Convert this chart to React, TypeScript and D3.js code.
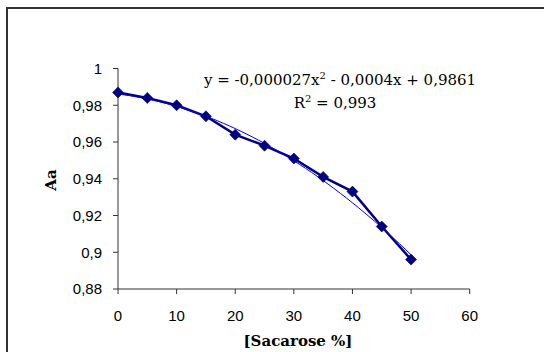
import React from 'react';
import * as d3 from 'd3';

const sacarose = [0, 5, 10, 15, 20, 25, 30, 35, 40, 45, 50];
const aa = [0.987, 0.984, 0.98, 0.974, 0.964, 0.958, 0.951, 0.941, 0.933, 0.914, 0.896];
// trendline coefficients as printed on the chart: a*x^2 + b*x + c
const trendCoef = [-0.000027, -0.0004, 0.9861];
const xTicks = [0, 10, 20, 30, 40, 50, 60];
const yTicks = [0.88, 0.9, 0.92, 0.94, 0.96, 0.98, 1];

const fmt = (v: number) => String(v).replace('.', ',');

export default function App() {
  const width = 544;
  const height = 352;
  const x = d3.scaleLinear().domain([0, 60]).range([118, 469.7]);
  const y = d3.scaleLinear().domain([0.88, 1]).range([289, 68.5]);

  const pts = sacarose.map((s, i) => ({ x: s, y: aa[i] }));
  const line = d3.line<{ x: number; y: number }>().x((d) => x(d.x)).y((d) => y(d.y));

  const [a, b, c] = trendCoef;
  const trendX = d3.range(0, 50.01, 1);
  const trend = trendX.map((t) => ({ x: t, y: a * t * t + b * t + c }));
  const trendPath = line(trend) || undefined;

  const tickFont = '"Liberation Sans", Arial, sans-serif';
  const serif = '"DejaVu Serif", serif';
  const axisColor = '#333';

  return (
    <svg
      width={width}
      height={height}
      viewBox={`0 0 ${width} ${height}`}
      style={{ position: 'absolute', left: 0, top: 0, background: '#fff' }}
    >
      {/* chart area border */}
      <rect x={7} y={8} width={width + 10} height={height + 10} fill="none" stroke="#333" strokeWidth={2} />

      {/* axes */}
      <line x1={x(0)} x2={x(0)} y1={y(1)} y2={y(0.88)} stroke={axisColor} strokeWidth={1} />
      <line x1={x(0)} x2={x(60)} y1={y(0.88)} y2={y(0.88)} stroke={axisColor} strokeWidth={1} />
      {yTicks.map((t) => (
        <g key={t}>
          <line x1={x(0) - 5} x2={x(0)} y1={y(t)} y2={y(t)} stroke={axisColor} />
          <text x={x(0) - 16} y={y(t)} dy="0.35em" textAnchor="end" fontSize={15} fontFamily={tickFont} fill="#000">
            {fmt(t)}
          </text>
        </g>
      ))}
      {xTicks.map((t) => (
        <g key={t}>
          <line x1={x(t)} x2={x(t)} y1={y(0.88)} y2={y(0.88) + 5} stroke={axisColor} />
          <text x={x(t)} y={y(0.88) + 27} dy="0.35em" textAnchor="middle" fontSize={15} fontFamily={tickFont} fill="#000">
            {t}
          </text>
        </g>
      ))}

      {/* series */}
      <path d={line(pts) || undefined} fill="none" stroke="#000080" strokeWidth={2.5} />
      <path d={trendPath} fill="none" stroke="#0000ff" strokeWidth={1} />
      {pts.map((d, i) => (
        <path
          key={i}
          transform={`translate(${x(d.x)},${y(d.y)})`}
          d="M0,-5.5 L5.5,0 L0,5.5 L-5.5,0 Z"
          fill="#000080"
          stroke="#000080"
          strokeWidth={0.6}
        />
      ))}

      {/* equation */}
      <text x={340} y={85} textAnchor="middle" fontSize={15} fontFamily={serif} fill="#000">
        y = -0,000027x<tspan dy={-6} fontSize={10}>2</tspan>
        <tspan dy={6}> - 0,0004x + 0,9861</tspan>
      </text>
      <text x={335} y={108} textAnchor="middle" fontSize={15} fontFamily={serif} fill="#000">
        R<tspan dy={-6} fontSize={10}>2</tspan>
        <tspan dy={6}> = 0,993</tspan>
      </text>

      {/* axis titles */}
      <text x={298} y={346} textAnchor="middle" fontSize={15} fontWeight="bold" fontFamily={serif} fill="#000">
        [Sacarose %]
      </text>
      <text
        transform={`translate(56,180) rotate(-90)`}
        textAnchor="middle"
        fontSize={15}
        fontWeight="bold"
        fontFamily={serif}
        fill="#000"
      >
        Aa
      </text>
    </svg>
  );
}
